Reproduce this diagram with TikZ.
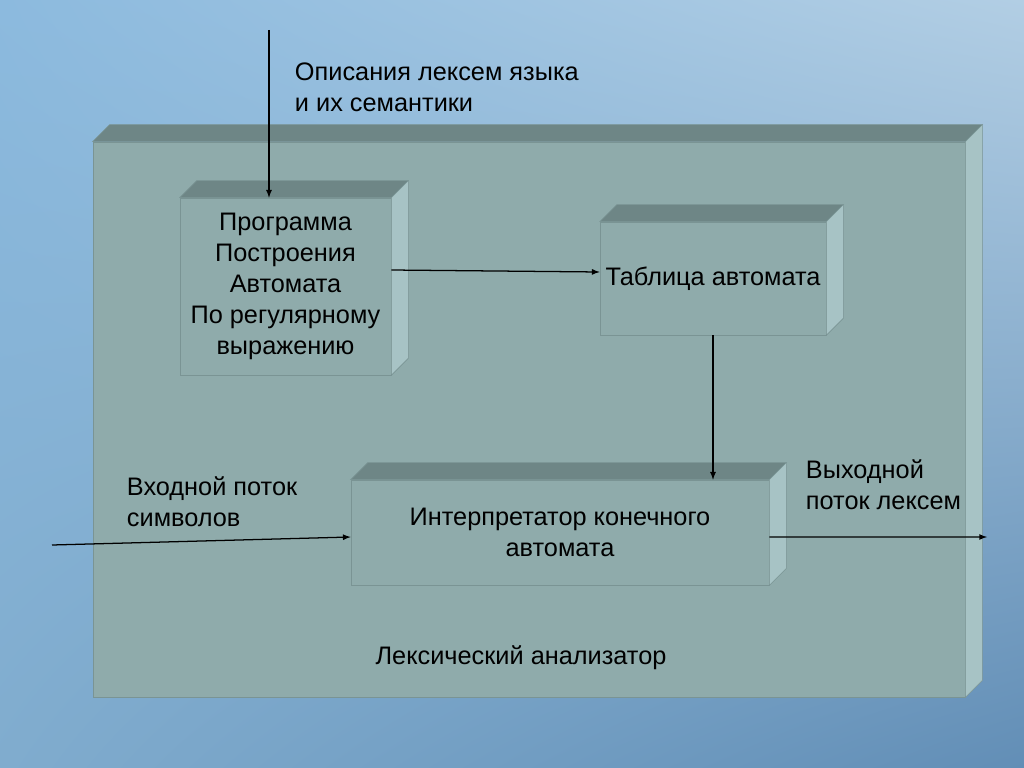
\documentclass[tikz,border=0pt]{standalone}
\usepackage{fontspec}
\setmainfont{Liberation Sans}
\usetikzlibrary{shadings}

\definecolor{slabfront}{HTML}{8FABAB}
\definecolor{slabtop}{HTML}{6E8686}
\definecolor{slabside}{HTML}{A7C3C5}
\definecolor{slabedge}{HTML}{7A9494}
\definecolor{skyul}{RGB}{140,186,222}
\definecolor{skyur}{RGB}{178,206,228}
\definecolor{skyll}{RGB}{128,172,206}
\definecolor{skylr}{RGB}{98,142,182}

% depth faces of a box node
\newcommand{\slabdepth}[1]{%
  \filldraw[fill=slabtop, draw=slabedge] (#1.north west) -- ++(17,-17) -- ([shift={(17,-17)}]#1.north east) -- (#1.north east) -- cycle;
  \filldraw[fill=slabside, draw=slabedge] (#1.north east) -- ([shift={(17,-17)}]#1.north east) -- ([shift={(17,-17)}]#1.south east) -- (#1.south east) -- cycle;}

\begin{document}
\begin{tikzpicture}[x=0.025cm, y=-0.025cm,
    txt/.style={font=\fontsize{18}{22}\selectfont, text=black},
    slab/.style={txt, draw=slabedge, fill=slabfront, align=center, inner sep=0pt},
    flow/.style={-latex, line width=0.9pt}]
    \useasboundingbox (0,0) rectangle (1024,768);
    \shade[upper left=skyul, upper right=skyur, lower left=skyll, lower right=skylr]
        (0,0) rectangle (1024,768);

    \node[slab, minimum width=21.8cm, minimum height=13.875cm] (lexan) at (529,419.5) {};
    \slabdepth{lexan}

    \node[slab, minimum width=5.275cm, minimum height=4.425cm] (prog) at (285.5,286.5)
        {Программа\\Построения\\Автомата\\По регулярному\\выражению};
    \slabdepth{prog}

    \node[slab, minimum width=5.65cm, minimum height=2.825cm] (table) at (713,278.5) {Таблица автомата};
    \slabdepth{table}

    \node[slab, minimum width=10.45cm, minimum height=2.625cm] (interp) at (560,532.5)
        {Интерпретатор конечного\\автомата};
    \slabdepth{interp}

    \node[txt, align=left, anchor=west] (desc) at (290,87) {Описания лексем языка\\и их семантики};
    \node[txt, align=left, anchor=west] (inlbl) at (122,502) {Входной поток\\символов};
    \node[txt, align=left, anchor=west] (outlbl) at (801,485) {Выходной\\поток лексем};
    \node[txt] (lexlbl) at (521,658) {Лексический анализатор};

    \coordinate (descsrc) at (269,30);
    \coordinate (insrc) at (52,545);
    \coordinate (outdst) at (987,537);

    \draw[flow] (descsrc) -- (descsrc |- prog.north);
    \draw[flow] ([shift={(0,-16.5)}]prog.east) -- ([shift={(0,-6.5)}]table.west);
    \draw[flow] (table.south) -- (table.south |- interp.north);
    \draw[flow] (insrc) -- ([shift={(0,4.5)}]interp.west);
    \draw[flow] ([shift={(0,4.5)}]interp.east) -- (outdst);
\end{tikzpicture}
\end{document}
